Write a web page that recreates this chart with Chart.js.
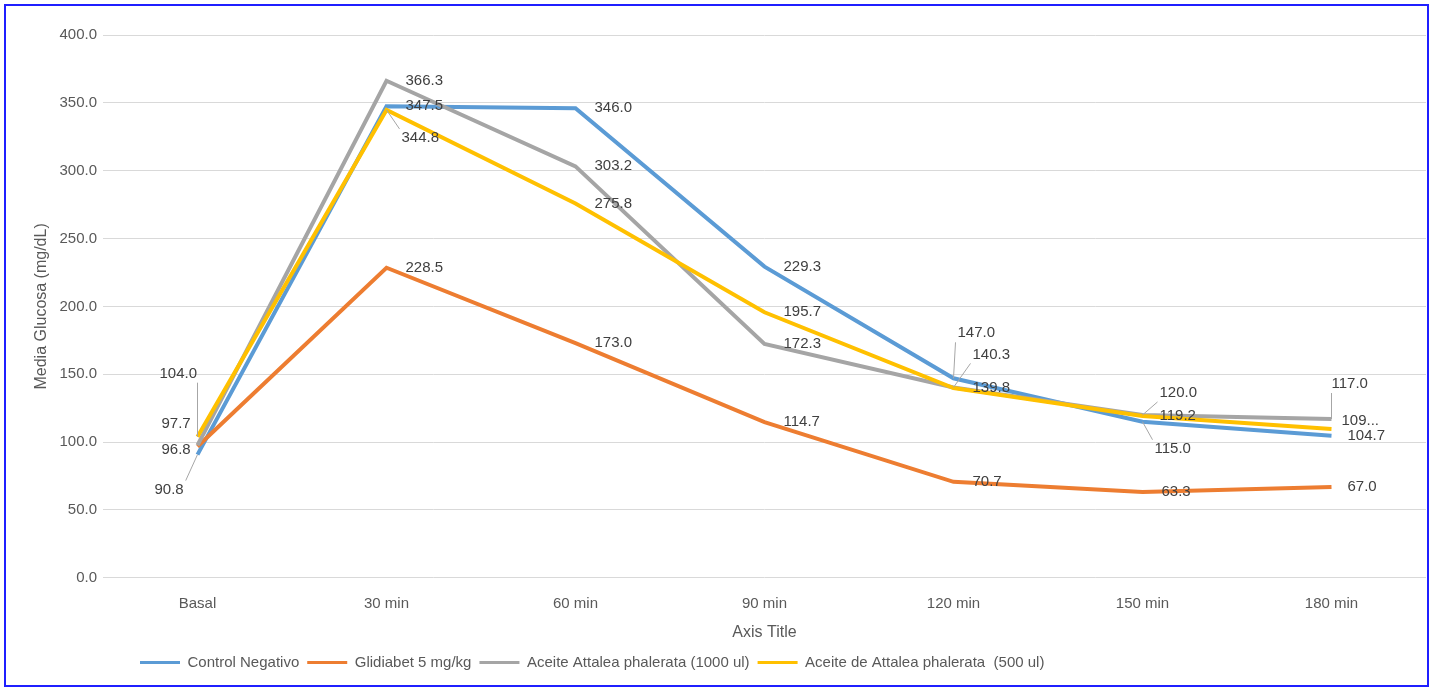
<!DOCTYPE html>
<html>
<head>
<meta charset="utf-8">
<script src="https://cdn.jsdelivr.net/npm/chart.js@4.4.1/dist/chart.umd.min.js"></script>
<style>
  html, body { margin: 0; padding: 0; background: #fff; }
  #frame {
    position: absolute; left: 4px; top: 4px;
    width: 1421px; height: 679px;
    border: 2px solid #1f1fff;
    background: #fff;
  }
  #chart { display: block; }
</style>
</head>
<body>
<div id="frame"><canvas id="chart" width="1421" height="679"></canvas></div>
<script>
// data
const timePoints = ['Basal', '30 min', '60 min', '90 min', '120 min', '150 min', '180 min'];
const seriesNames = ['Control Negativo', 'Glidiabet 5 mg/kg', 'Aceite Attalea phalerata (1000 ul)', 'Aceite de Attalea phalerata  (500 ul)'];
const controlNegativo = [90.8, 347.5, 346.0, 229.3, 147.0, 115.0, 104.7];
const glidiabet = [96.8, 228.5, 173.0, 114.7, 70.7, 63.3, 67.0];
const aceite1000 = [97.7, 366.3, 303.2, 172.3, 140.3, 120.0, 117.0];
const aceite500 = [104.0, 344.8, 275.8, 195.7, 139.8, 119.2, 109.6];
const yTicks = [0, 50, 100, 150, 200, 250, 300, 350, 400];

const colors = ['#5b9bd5', '#ed7d31', '#a5a5a5', '#ffc000'];
const fontFam = '"Liberation Sans", Arial, sans-serif';

// label placement: [dx, dy, leader]  (dx = text left from point, dy = text middle from point)
const defaultShift = [19, 0, false];
const labelShift = {
  '0,0': [-43, 35, true], '0,4': [4, -45, true], '0,5': [12, 27, true], '0,6': [16, 0, false],
  '1,0': [-36, 3, false], '1,6': [16, 0, false],
  '2,0': [-36, -21, false], '2,4': [19, -33, true], '2,5': [17, -22, true], '2,6': [0, -35, true],
  '3,0': [-38, -63, true], '3,1': [15, 28, true], '3,5': [17, 0, false], '3,6': [10, -8, false]
};
const labelText = { '3,6': '109...' };

const pointLabels = {
  id: 'pointLabels',
  afterDatasetsDraw(chart) {
    const ctx = chart.ctx;
    ctx.save();
    ctx.font = '15px ' + fontFam;
    ctx.textBaseline = 'middle';
    ctx.textAlign = 'left';
    chart.data.datasets.forEach((ds, di) => {
      const meta = chart.getDatasetMeta(di);
      meta.data.forEach((pt, i) => {
        const key = di + ',' + i;
        const s = labelShift[key] || defaultShift;
        const txt = labelText[key] || ds.data[i].toFixed(1);
        const w = ctx.measureText(txt).width;
        const lx = pt.x + s[0], ly = pt.y + s[1];
        if (s[2]) {
          const bx = Math.min(Math.max(pt.x, lx - 2), lx + w + 2);
          const by = Math.min(Math.max(pt.y, ly - 9), ly + 9);
          ctx.strokeStyle = '#a6a6a6';
          ctx.lineWidth = 1;
          ctx.beginPath();
          ctx.moveTo(bx, by);
          ctx.lineTo(pt.x, pt.y);
          ctx.stroke();
        }
        ctx.fillStyle = '#404040';
        ctx.fillText(txt, lx, ly);
      });
    });
    ctx.restore();
  }
};

// legend sits left of centre in the original
const legendShift = {
  id: 'legendShift',
  afterLayout(chart) {
    chart.legend.left = 126;
  }
};

const seriesData = [controlNegativo, glidiabet, aceite1000, aceite500];

new Chart(document.getElementById('chart'), {
  type: 'line',
  data: {
    labels: timePoints,
    datasets: seriesData.map((d, i) => ({
      label: seriesNames[i],
      data: d,
      borderColor: colors[i],
      backgroundColor: colors[i],
      borderWidth: 4,
      pointRadius: 0,
      tension: 0,
      order: 4 - i
    }))
  },
  plugins: [pointLabels, legendShift],
  options: {
    responsive: false,
    animation: false,
    layout: { padding: { top: 29, right: 1, left: 0, bottom: 5 } },
    scales: {
      x: {
        offset: true,
        grid: { display: false },
        border: { display: false },
        ticks: { color: '#595959', font: { size: 15, family: fontFam }, padding: 9 },
        title: { display: true, text: 'Axis Title', color: '#595959', font: { size: 16, family: fontFam }, padding: { top: 1, bottom: 5 } }
      },
      y: {
        min: 0, max: 400,
        afterBuildTicks: s => { s.ticks = yTicks.map(v => ({ value: v })); },
        afterFit: s => { s.width = 97; },
        grid: { color: '#d9d9d9', drawTicks: false },
        border: { display: false },
        ticks: { color: '#595959', font: { size: 15, family: fontFam }, padding: 6, callback: v => v.toFixed(1) },
        title: { display: true, text: 'Media Glucosa (mg/dL)', color: '#595959', font: { size: 16, family: fontFam }, padding: { top: 26, bottom: 0 } }
      }
    },
    plugins: {
      tooltip: { enabled: false },
      legend: {
        position: 'bottom',
        align: 'start',
        labels: {
          color: '#595959',
          font: { size: 15, family: fontFam },
          boxWidth: 40,
          boxHeight: 3,
          padding: 8,
          sort: (a, b) => a.datasetIndex - b.datasetIndex,
          generateLabels: chart => Chart.defaults.plugins.legend.labels.generateLabels(chart).map(l => ({ ...l, lineWidth: 0, fillStyle: colors[l.datasetIndex] }))
        }
      }
    }
  }
});
</script>
</body>
</html>
